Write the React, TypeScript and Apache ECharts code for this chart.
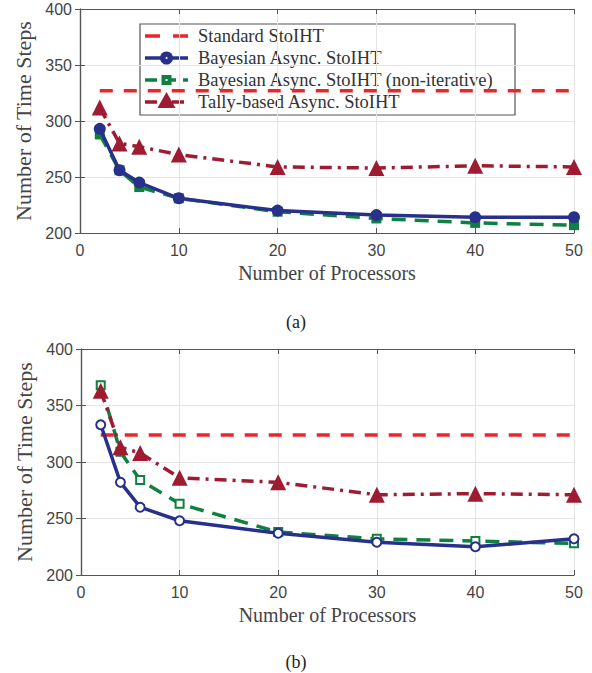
import React, { useEffect, useRef } from "react";
import * as echarts from "echarts";

const processors = [2, 4, 6, 10, 20, 30, 40, 50];
const standardX = [2, 50];
const seriesNames = [
  "Standard StoIHT",
  "Bayesian Async. StoIHT",
  "Bayesian Async. StoIHT (non-iterative)",
  "Tally-based Async. StoIHT",
];

// Panel (a)
const aStandard = [327, 327];
const aBayes = [293, 256, 245, 231, 220, 216, 214, 214];
const aNonIter = [288, 256, 241, 231, 219, 213, 209, 207];
const aTally = [312, 280, 277, 270, 259, 258, 260, 259];

// Panel (b)
const bStandard = [324, 324];
const bBayes = [333, 282, 260, 248, 237, 229, 225, 232];
const bNonIter = [368, 309, 284, 263, 238, 232, 230, 228];
const bTally = [363, 313, 308, 286, 282, 271, 272, 271];

const yTicks = [200, 250, 300, 350, 400];
const xTicks = [0, 10, 20, 30, 40, 50];

const RED = "#e8262b";
const NAVY = "#27318b";
const GREEN = "#0f8040";
const CRIMSON = "#9e1b32";
const SERIF = "'Liberation Serif', 'DejaVu Serif', serif";
const SANS = "'Liberation Sans', Arial, sans-serif";

const DASH_STD = [13, 11];
const DASH_NON = [14, 9];
const DASH_TALLY = [12, 6, 3, 6];

function pairs(xs: number[], ys: number[]) {
  return xs.map((x, i) => [x, ys[i]]);
}

function buildLegend() {
  const left = 140;
  const top = 24;
  const w = 375;
  const h = 91;
  const rowY = [36, 58, 80, 102];
  const x0 = 145;
  const x1 = 188;
  const cx = (x0 + x1) / 2;
  const tx = 198;
  const els: any[] = [
    {
      type: "rect",
      shape: { x: left, y: top, width: w, height: h },
      style: { fill: "#fff", stroke: "#555", lineWidth: 1.2 },
    },
  ];
  els.push({
    type: "line",
    shape: { x1: x0, y1: rowY[0], x2: x1, y2: rowY[0] },
    style: { stroke: RED, lineWidth: 3.5, lineDash: [15, 13] },
  });
  els.push({
    type: "line",
    shape: { x1: x0, y1: rowY[1], x2: x1, y2: rowY[1] },
    style: { stroke: NAVY, lineWidth: 3.5 },
  });
  els.push({ type: "circle", shape: { cx, cy: rowY[1], r: 6.5 }, style: { fill: NAVY } });
  els.push({ type: "circle", shape: { cx, cy: rowY[1], r: 1 }, style: { fill: "#fff" } });
  els.push({
    type: "line",
    shape: { x1: x0, y1: rowY[2], x2: x1, y2: rowY[2] },
    style: { stroke: GREEN, lineWidth: 3.5, lineDash: [12, 7] },
  });
  els.push({
    type: "rect",
    shape: { x: cx - 5, y: rowY[2] - 5, width: 10, height: 10 },
    style: { fill: GREEN },
  });
  els.push({
    type: "rect",
    shape: { x: cx - 1, y: rowY[2] - 1, width: 2, height: 2 },
    style: { fill: "#fff" },
  });
  els.push({
    type: "line",
    shape: { x1: x0, y1: rowY[3], x2: x1, y2: rowY[3] },
    style: { stroke: CRIMSON, lineWidth: 3.5, lineDash: [12, 6, 3, 6] },
  });
  els.push({
    type: "polygon",
    shape: { points: [[cx, rowY[3] - 10], [cx - 9, rowY[3] + 6], [cx + 9, rowY[3] + 6]] },
    style: { fill: CRIMSON },
  });
  seriesNames.forEach((n, i) => {
    els.push({
      type: "text",
      x: tx,
      y: rowY[i],
      style: {
        text: n,
        fontFamily: SERIF,
        fontSize: 18.5,
        fill: "#333",
        verticalAlign: "middle",
        align: "left",
      },
    });
  });
  return { type: "group", z: 100, children: els };
}

export default function App() {
  const ref = useRef<HTMLDivElement>(null);
  useEffect(() => {
    if (!ref.current) return;
    const chart = echarts.init(ref.current, undefined, { renderer: "svg" });

    const grids = [
      { left: 80, top: 9, width: 494, height: 224 },
      { left: 81, top: 349, width: 493, height: 226 },
    ];

    const axisLine = { show: true, lineStyle: { color: "#555", width: 1.2 } };
    const axisTick = { show: true, inside: true, length: 5, lineStyle: { color: "#555" } };
    const xAxes: any[] = [];
    const yAxes: any[] = [];
    grids.forEach((_, gi) => {
      xAxes.push({
        gridIndex: gi,
        type: "value",
        min: xTicks[0],
        max: xTicks[xTicks.length - 1],
        interval: 10,
        position: "bottom",
        name: "Number of Processors",
        nameLocation: "middle",
        nameGap: 30,
        nameTextStyle: { fontFamily: SERIF, fontSize: 20, color: "#444" },
        axisLine,
        axisTick,
        axisLabel: { fontFamily: SANS, fontSize: 16, color: "#444", margin: 9 },
        splitLine: { show: true, lineStyle: { color: "#e4e4e4", width: 1 } },
      });
      xAxes.push({
        gridIndex: gi,
        type: "value",
        min: xTicks[0],
        max: xTicks[xTicks.length - 1],
        interval: 10,
        position: "top",
        axisLine,
        axisTick,
        axisLabel: { show: false },
        splitLine: { show: false },
      });
      yAxes.push({
        gridIndex: gi,
        type: "value",
        min: yTicks[0],
        max: yTicks[yTicks.length - 1],
        interval: 50,
        position: "left",
        name: "Number of Time Steps",
        nameLocation: "middle",
        nameGap: 44,
        nameTextStyle: { fontFamily: SERIF, fontSize: 22, color: "#444" },
        axisLine,
        axisTick,
        axisLabel: { fontFamily: SANS, fontSize: 16, color: "#444", margin: 8 },
        splitLine: { show: true, lineStyle: { color: "#e4e4e4", width: 1 } },
      });
      yAxes.push({
        gridIndex: gi,
        type: "value",
        min: yTicks[0],
        max: yTicks[yTicks.length - 1],
        interval: 50,
        position: "right",
        axisLine,
        axisTick,
        axisLabel: { show: false },
        splitLine: { show: false },
      });
    });

    const makeSeries = (gi: number, std: number[], bay: number[], non: number[], tal: number[]) => {
      const xi = gi * 2;
      const yi = gi * 2;
      return [
        {
          name: seriesNames[0],
          type: "line",
          xAxisIndex: xi,
          yAxisIndex: yi,
          data: pairs(standardX, std),
          showSymbol: false,
          symbol: "none",
          lineStyle: { color: RED, width: 3.5, type: DASH_STD },
          itemStyle: { color: RED },
          z: 2,
        },
        {
          name: seriesNames[1],
          type: "line",
          xAxisIndex: xi,
          yAxisIndex: yi,
          data: pairs(processors, bay),
          symbol: gi === 0 ? "circle" : "emptyCircle",
          symbolSize: gi === 0 ? 12 : 9,
          lineStyle: { color: NAVY, width: 3.5 },
          itemStyle: { color: NAVY, borderColor: NAVY, borderWidth: gi === 0 ? 0 : 3 },
          z: 4,
        },
        {
          name: seriesNames[2],
          type: "line",
          xAxisIndex: xi,
          yAxisIndex: yi,
          data: pairs(processors, non),
          symbol: gi === 0 ? "rect" : "emptyRect",
          symbolSize: gi === 0 ? 10 : 8,
          lineStyle: { color: GREEN, width: 3.5, type: DASH_NON },
          itemStyle: { color: GREEN, borderColor: GREEN, borderWidth: gi === 0 ? 0 : 3 },
          z: 3,
        },
        {
          name: seriesNames[3],
          type: "line",
          xAxisIndex: xi,
          yAxisIndex: yi,
          data: pairs(processors, tal),
          symbol: "triangle",
          symbolSize: 16,
          lineStyle: { color: CRIMSON, width: 3.5, type: DASH_TALLY },
          itemStyle: { color: CRIMSON },
          z: 3,
        },
      ];
    };

    chart.setOption({
      animation: false,
      backgroundColor: "#fff",
      grid: grids,
      xAxis: xAxes,
      yAxis: yAxes,
      title: [
        { text: "(a)", left: "center", top: 308, textStyle: { fontFamily: SERIF, fontSize: 18, fontWeight: "normal", color: "#222" } },
        { text: "(b)", left: "center", top: 648, textStyle: { fontFamily: SERIF, fontSize: 18, fontWeight: "normal", color: "#222" } },
      ],
      graphic: [buildLegend()],
      series: [
        ...makeSeries(0, aStandard, aBayes, aNonIter, aTally),
        ...makeSeries(1, bStandard, bBayes, bNonIter, bTally),
      ],
    });
    return () => chart.dispose();
  }, []);
  return (
    <div
      ref={ref}
      style={{ position: "fixed", left: 0, top: 0, width: 592, height: 673, background: "#fff" }}
    />
  );
}
